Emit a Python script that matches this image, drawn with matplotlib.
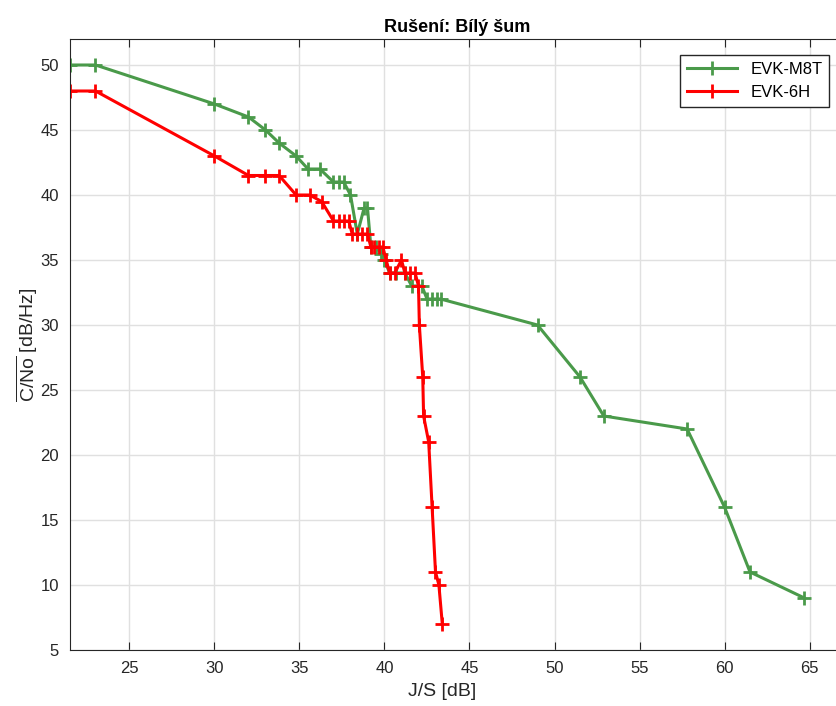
import matplotlib.pyplot as plt
import numpy as np

plt.rcParams['font.family'] = ['Liberation Sans', 'DejaVu Sans']
plt.rcParams['mathtext.fontset'] = 'custom'
plt.rcParams['mathtext.rm'] = 'Liberation Sans'

# EVK-M8T (green)
m8t_js = [21.5, 23.0, 30.0, 32.0, 33.0, 33.8, 34.8, 35.5, 36.2, 37.0, 37.3, 37.6,
          38.0, 38.4, 38.8, 39.0, 39.2, 39.5, 39.8, 40.0, 40.3, 40.7, 41.2, 41.6,
          42.2, 42.5, 42.8, 43.1, 43.3, 49.0, 51.5, 52.9, 57.8, 60.0, 61.5, 64.7]
m8t_cno = [50, 50, 47, 46, 45, 44, 43, 42, 42, 41, 41, 41,
           40, 37, 39, 39, 36, 36, 35.5, 35, 34, 34, 34, 33,
           33, 32, 32, 32, 32, 30, 26, 23, 22, 16, 11, 9]

# EVK-6H (red)
h6_js = [21.5, 23.0, 30.0, 32.0, 33.0, 33.8, 34.8, 35.6, 36.3, 37.0, 37.3, 37.6,
         37.9, 38.1, 38.4, 38.7, 39.0, 39.2, 39.4, 39.7, 39.9, 40.1, 40.3, 40.6,
         41.0, 41.2, 41.5, 41.8, 42.0, 42.05, 42.25, 42.3, 42.6, 42.8, 43.0, 43.2, 43.4]
h6_cno = [48, 48, 43, 41.5, 41.5, 41.5, 40, 40, 39.5, 38, 38, 38,
          38, 37, 37, 37, 37, 36, 36, 36, 36, 35, 34, 34,
          35, 34, 34, 34, 33, 30, 26, 23, 21, 16, 11, 10, 7]

fig = plt.figure(figsize=(8.37, 7.06), dpi=100)
W, H = 837, 706
ax = fig.add_axes([70 / W, (706 - 650) / H, 773.5 / W, 611 / H])

ax.plot(m8t_js, m8t_cno, color='#4a9a4a', lw=2.2, marker='+', ms=10, mew=2, label='EVK-M8T')
ax.plot(h6_js, h6_cno, color='#ff0000', lw=2.2, marker='+', ms=10, mew=2, label='EVK-6H')

ax.set_xlim(21.5, 67)
ax.set_ylim(5, 52)
ax.set_xticks(np.arange(25, 66, 5))
ax.set_yticks(np.arange(5, 51, 5))
ax.grid(True, color='#e0e0e0', lw=1)
ax.set_axisbelow(True)
ax.tick_params(axis='x', direction='in', top=True, labelsize=12, colors='#262626', length=6, pad=8)
ax.tick_params(axis='y', direction='in', right=False, labelsize=12, colors='#262626', length=0, pad=8)
for s in ax.spines.values():
    s.set_color('#262626')

ax.set_title('Rušení: Bílý šum', fontsize=13, fontweight='bold', pad=5)
ax.set_xlabel('J/S [dB]', fontsize=14, color='#262626')
ax.xaxis.set_label_coords((442 - 70) / 773.5, -0.054)
ax.set_ylabel(r'$\overline{\mathrm{C/No}}$ [dB/Hz]', fontsize=14, color='#262626', labelpad=0.5)

leg = ax.legend(loc='upper right', bbox_to_anchor=(829 / W, 1 - 55 / H),
                bbox_transform=fig.transFigure, borderaxespad=0, fontsize=12,
                fancybox=False, framealpha=1, edgecolor='#262626', handlelength=3)
leg.get_frame().set_linewidth(1)

fig.savefig('out.png', dpi=100)
